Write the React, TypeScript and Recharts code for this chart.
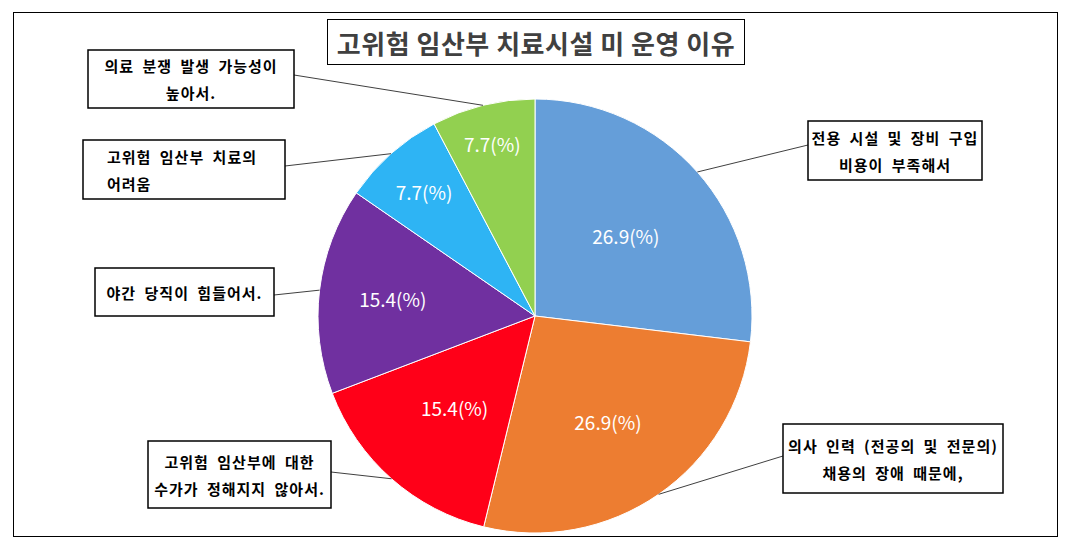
import { PieChart, Pie, Cell } from "recharts";

const TITLE = "고위험 임산부 치료시설 미 운영 이유";

const reasons = [
	["전용 시설 및 장비 구입", "비용이 부족해서"],
	["의사 인력 (전공의 및 전문의)", "채용의 장애 때문에,"],
	["고위험 임산부에 대한", "수가가 정해지지 않아서."],
	["야간 당직이 힘들어서."],
	["고위험 임산부 치료의", "어려움"],
	["의료 분쟁 발생 가능성이", "높아서."],
];
const shares = [26.9, 26.9, 15.4, 15.4, 7.7, 7.7];
const colors = ["#659ED9", "#ED7D31", "#FF0018", "#7030A0", "#2EB4F4", "#92D050"];

// label box placement, one per slice (layout only)
const boxes = [
	{ x: 808, y: 121, w: 174, h: 59, ax: 808, ay: 145, align: "middle" },
	{ x: 783, y: 424, w: 220, h: 69, ax: 783, ay: 456, align: "middle" },
	{ x: 148, y: 441, w: 183, h: 67, ax: 331, ay: 472, align: "middle" },
	{ x: 95, y: 268, w: 179, h: 48, ax: 274, ay: 295, align: "middle" },
	{ x: 83, y: 140, w: 202, h: 59, ax: 285, ay: 166, align: "start" },
	{ x: 88, y: 50, w: 206, h: 58, ax: 294, ay: 75, align: "middle" },
];
const labelRadius = [0.56, 0.59, 0.56, 0.66, 0.77, 0.82];

const FONT = "'Noto Sans CJK KR', 'Noto Sans', sans-serif";
const RAD = Math.PI / 180;

const data = shares.map((v, i) => ({ name: reasons[i].join(" "), value: v }));

function renderLabel(props: any) {
	const { cx, cy, midAngle, outerRadius, index, value } = props;
	const b = boxes[index];
	const cos = Math.cos(-midAngle * RAD);
	const sin = Math.sin(-midAngle * RAD);
	const ex = cx + outerRadius * cos;
	const ey = cy + outerRadius * sin;
	const lr = outerRadius * labelRadius[index];
	const lines = reasons[index];
	const tx = b.align === "start" ? b.x + 24 : b.x + b.w / 2;
	const midY = b.y + b.h / 2;
	const step = 27;
	return (
		<g key={`lbl-${index}`}>
			<text
				x={cx + lr * cos}
				y={cy + lr * sin}
				fill="#fff"
				fontSize={19}
				fontFamily={FONT}
				textAnchor="middle"
				dominantBaseline="central"
			>
				{`${value}(%)`}
			</text>
			<line x1={ex} y1={ey} x2={b.ax} y2={b.ay} stroke="#404040" strokeWidth={1} />
			<rect x={b.x} y={b.y} width={b.w} height={b.h} fill="#fff" stroke="#000" strokeWidth={1.5} />
			{lines.map((ln, k) => (
				<text
					key={k}
					x={tx}
					y={midY + (k - (lines.length - 1) / 2) * step}
					fill="#000"
					fontSize={15}
					fontWeight={700}
					fontFamily={FONT}
					textAnchor={b.align}
					dominantBaseline="central"
					style={{ letterSpacing: 1, wordSpacing: 4 }}
				>
					{ln}
				</text>
			))}
		</g>
	);
}

export default function App() {
	return (
		<div style={{ position: "absolute", left: 0, top: 0, width: 1068, height: 549, background: "#fff" }}>
			<div
				style={{
					position: "absolute",
					left: 13,
					top: 12,
					width: 1045,
					height: 525,
					border: "1.5px solid #000",
					boxSizing: "border-box",
				}}
			/>
			<PieChart width={1068} height={549} style={{ position: "absolute", left: 0, top: 0 }}>
				<Pie
					data={data}
					dataKey="value"
					cx={530}
					cy={311}
					outerRadius={217}
					startAngle={90}
					endAngle={-270}
					stroke="#fff"
					strokeWidth={1}
					label={renderLabel}
					labelLine={false}
					isAnimationActive={false}
				>
					{data.map((d, i) => (
						<Cell key={d.name} fill={colors[i]} />
					))}
				</Pie>
			</PieChart>
			<div
				style={{
					position: "absolute",
					left: 327,
					top: 19,
					width: 418,
					height: 46,
					border: "1.5px solid #000",
					boxSizing: "border-box",
					background: "#fff",
					display: "flex",
					alignItems: "center",
					justifyContent: "center",
					fontFamily: FONT,
					fontWeight: 700,
					fontSize: 26,
					letterSpacing: 0.5,
					color: "#404040",
					whiteSpace: "nowrap",
				}}
			>
				{TITLE}
			</div>
		</div>
	);
}
